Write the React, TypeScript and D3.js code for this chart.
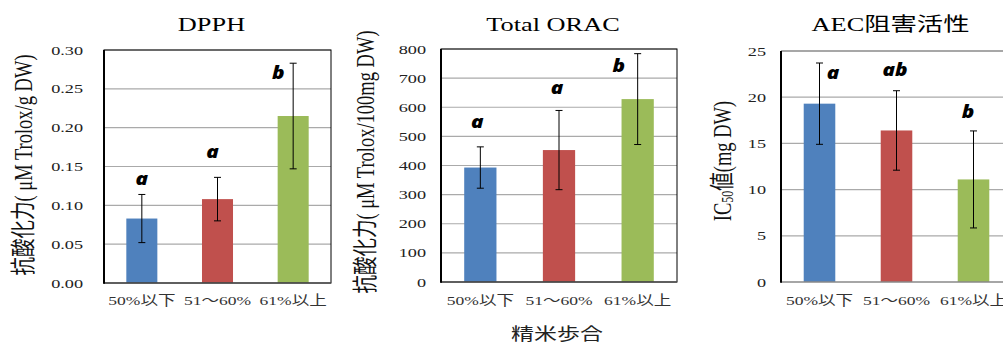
import React from "react";
import * as d3 from "d3";

// 精米歩合 categories
const categories = ["50%以下", "51～60%", "61%以上"];

// DPPH
const dpphMean = [0.083, 0.108, 0.215];
const dpphErr = [0.031, 0.028, 0.068];
const dpphLetters = ["a", "a", "b"];
const dpphTicks = [0, 0.05, 0.1, 0.15, 0.2, 0.25, 0.3];

// Total ORAC
const oracMean = [393, 453, 628];
const oracErr = [71, 136, 156];
const oracLetters = ["a", "a", "b"];
const oracTicks = [0, 100, 200, 300, 400, 500, 600, 700, 800];

// AEC 阻害活性 (IC50)
const aecMean = [19.3, 16.4, 11.1];
const aecErr = [4.4, 4.3, 5.25];
const aecLetters = ["a", "ab", "b"];
const aecTicks = [0, 5, 10, 15, 20, 25];

const colors = ["#4f81bd", "#c0504d", "#9bbb59"];
const serif = "'Liberation Serif', 'Noto Sans CJK JP', serif";
const SX = 1.35; // the source picture is stretched sideways

function Panel(props: any) {
  const { box, mean, err, letters, letterAt, letterDx, ticks, fmt, title, yLabel, labelPos, tickGap, open } = props;
  const x = d3
    .scaleBand()
    .domain(categories)
    .range([box.left, box.right])
    .paddingInner(0.59)
    .paddingOuter(0.295);
  const y = d3
    .scaleLinear()
    .domain([ticks[0], ticks[ticks.length - 1]])
    .range([box.bottom, box.top]);
  const cx = (c: string) => x(c)! + x.bandwidth() / 2;

  return (
    <g>
      {/* grid */}
      {ticks.slice(1).map((t: number) => (
        <line key={t} x1={box.left} x2={box.right} y1={y(t)} y2={y(t)} stroke="#aaa" strokeWidth={1.2} />
      ))}
      {/* bars */}
      {categories.map((c, i) => (
        <rect key={c} x={x(c)} width={x.bandwidth()} y={y(mean[i])} height={y(0) - y(mean[i])} fill={colors[i]} />
      ))}
      {/* error bars */}
      {categories.map((c, i) => {
        const hi = y(mean[i] + err[i]);
        const lo = y(mean[i] - err[i]);
        return (
          <g key={c} stroke="#000" strokeWidth={1}>
            <line x1={cx(c)} x2={cx(c)} y1={hi} y2={lo} />
            <line x1={cx(c) - 3.5} x2={cx(c) + 3.5} y1={hi} y2={hi} />
            <line x1={cx(c) - 3.5} x2={cx(c) + 3.5} y1={lo} y2={lo} />
          </g>
        );
      })}
      {/* frame */}
      {open ? (
        <g>
          <line x1={box.left} x2={box.right} y1={box.top} y2={box.top} stroke="#999" strokeWidth={1.5} />
          <line x1={box.left} x2={box.right} y1={box.bottom} y2={box.bottom} stroke="#888" strokeWidth={1.5} />
        </g>
      ) : (
        <g>
          <rect x={box.left} y={box.top} width={box.right - box.left} height={box.bottom - box.top} fill="none" stroke="#000" strokeWidth={1} />
          <line x1={box.left} x2={box.right} y1={box.bottom} y2={box.bottom} stroke="#555" strokeWidth={1.5} />
        </g>
      )}
      <line x1={box.left} x2={box.left} y1={box.top} y2={box.bottom + 0.7} stroke="#000" strokeWidth={2} />
      {/* significance letters */}
      {categories.map((c, i) => (
        <text
          key={c}
          transform={`translate(${cx(c) + letterDx[i]},${y(letterAt[i])}) scale(1.15,1)`}
          textAnchor="middle"
          fontFamily="'Open Sans', 'Liberation Sans', sans-serif"
          fontWeight={800}
          fontStyle="italic"
          fontSize={18}
          fill="#000"
        >
          {letters[i]}
        </text>
      ))}
      {/* y ticks */}
      {ticks.map((t: number) => (
        <text
          key={t}
          transform={`translate(${box.left - tickGap},${y(t) + 4.5}) scale(${SX},1)`}
          textAnchor="end"
          fontFamily={serif}
          fontSize={13.5}
          fill="#222"
        >
          {fmt(t)}
        </text>
      ))}
      {/* x labels */}
      {categories.map((c) => (
        <text
          key={c}
          transform={`translate(${cx(c)},${305}) scale(1.3,1)`}
          textAnchor="middle"
          fontFamily={serif}
          fontSize={13.5}
          fill="#333"
        >
          {c}
        </text>
      ))}
      {/* title */}
      <text
        transform={`translate(${(box.left + box.right) / 2 - 6},31) scale(${SX},1)`}
        textAnchor="middle"
        fontFamily={serif}
        fontSize={19.5}
        fill="#000"
      >
        {title}
      </text>
      {/* y label */}
      <text
        transform={`translate(${labelPos[0]},${labelPos[1]}) scale(${SX},1) rotate(-90)`}
        textAnchor="middle"
        dominantBaseline="central"
        fontFamily={serif}
        fontSize={18.5}
        fill="#111"
      >
        {yLabel}
      </text>
    </g>
  );
}

export default function App() {
  return (
    <svg width={1003} height={342} style={{ position: "absolute", left: 0, top: 0, background: "#fff" }}>
      <Panel
        box={{ left: 104, right: 331, top: 50, bottom: 283 }}
        mean={dpphMean}
        err={dpphErr}
        letters={dpphLetters}
        letterAt={[0.126, 0.161, 0.263]}
        letterDx={[0, -5, -15]}
        ticks={dpphTicks}
        fmt={d3.format(".2f")}
        title="DPPH"
        yLabel="抗酸化力( μM Trolox/g DW)"
        labelPos={[23, 165]}
        tickGap={21}
      />
      <Panel
        box={{ left: 441, right: 677, top: 49, bottom: 282 }}
        mean={oracMean}
        err={oracErr}
        letters={oracLetters}
        letterAt={[529, 645, 721]}
        letterDx={[-3, -2, -19]}
        ticks={oracTicks}
        fmt={d3.format("d")}
        title="Total ORAC"
        yLabel="抗酸化力( μM Trolox/100mg DW)"
        labelPos={[365, 162]}
        tickGap={15}
      />
      <Panel
        box={{ left: 781, right: 1012, top: 51, bottom: 282 }}
        mean={aecMean}
        err={aecErr}
        letters={aecLetters}
        letterAt={[22.0, 22.3, 17.7]}
        letterDx={[13.5, -1.5, -5.5]}
        ticks={aecTicks}
        fmt={d3.format("d")}
        title="AEC阻害活性"
        yLabel={
          <>
            <tspan>IC</tspan>
            <tspan fontSize={12} dy={4}>50</tspan>
            <tspan dy={-4}>値(mg DW)</tspan>
          </>
        }
        labelPos={[722, 161]}
        tickGap={15}
        open
      />
      <text
        transform={`translate(557,340) scale(${SX},1)`}
        textAnchor="middle"
        fontFamily={serif}
        fontSize={17}
        fill="#222"
      >
        精米歩合
      </text>
    </svg>
  );
}
